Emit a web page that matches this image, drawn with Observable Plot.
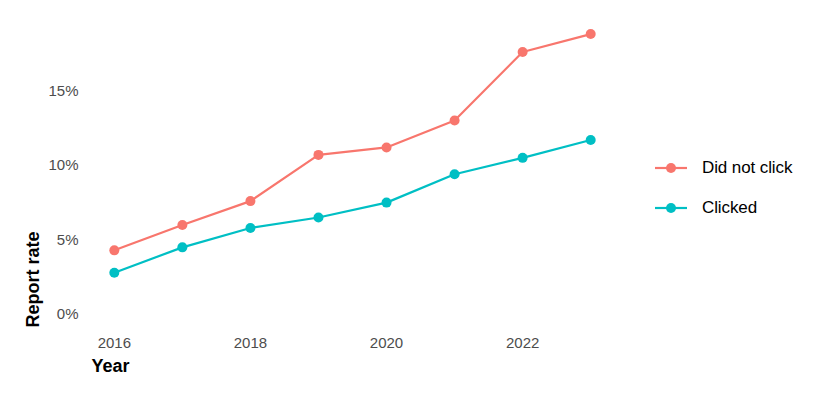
<!DOCTYPE html>
<html><head><meta charset="utf-8">
<script src="https://cdn.jsdelivr.net/npm/d3@7"></script>
<script src="https://cdn.jsdelivr.net/npm/@observablehq/plot@0.6"></script>
<style>
body{margin:0;background:#fff;font-family:"Liberation Sans",Arial,sans-serif}
#wrap{position:relative;width:819px;height:397px;background:#fff}
#legend{position:absolute;left:655px;top:148px}
.item{display:flex;align-items:center;height:40px;font-size:17px;color:#000;letter-spacing:-0.1px}
.item svg{margin-right:15px;display:block}
</style>
</head><body>
<div id="wrap"><div id="legend"></div></div>
<script>
const years = [2016, 2017, 2018, 2019, 2020, 2021, 2022, 2023];
const didNotClick = [4.3, 6.0, 7.6, 10.7, 11.2, 13.0, 17.6, 18.8];
const clicked = [2.8, 4.5, 5.8, 6.5, 7.5, 9.4, 10.5, 11.7];
const groups = ["Did not click", "Clicked"];
const colors = ["#F8766D", "#00BFC4"];
const xTicks = [2016, 2018, 2020, 2022];
const yTicks = [0, 5, 10, 15];

const data = years.flatMap((yr, i) => [
  {year: yr, rate: didNotClick[i], group: groups[0]},
  {year: yr, rate: clicked[i], group: groups[1]}
]);

const font = '"Liberation Sans", Arial, sans-serif';
const chart = Plot.plot({
  width: 819, height: 397,
  marginLeft: 90, marginRight: 205, marginTop: 20, marginBottom: 69,
  x: {domain: [2015.65, 2023.35]},
  y: {domain: [-0.94, 19.71]},
  color: {domain: groups, range: colors},
  style: {fontFamily: font, fontSize: "15px", background: "#fff"},
  marks: [
    Plot.axisX({ticks: xTicks, tickFormat: "d", tickSize: 0, tickPadding: 9, label: null, fontSize: 15, fill: "#4d4d4d"}),
    Plot.axisY({ticks: yTicks, tickFormat: d => d + "%", tickSize: 0, tickPadding: 12, label: null, fontSize: 15, fill: "#4d4d4d"}),
    Plot.line(data, {x: "year", y: "rate", stroke: "group", strokeWidth: 2.2}),
    Plot.dot(data, {x: "year", y: "rate", fill: "group", r: 5}),
    Plot.text(["Report rate"], {frameAnchor: "bottom-left", rotate: -90, textAnchor: "start", dx: -52, dy: -1, fontWeight: "bold", fontSize: 18, fill: "#000"}),
    Plot.text(["Year"], {frameAnchor: "bottom-left", textAnchor: "start", dx: 1, dy: 43, fontWeight: "bold", fontSize: 18, fill: "#000"})
  ]
});
document.getElementById("wrap").prepend(chart);

const legend = document.getElementById("legend");
groups.forEach((g, i) => {
  const div = document.createElement("div");
  div.className = "item";
  div.innerHTML = `<svg width="32" height="14"><line x1="0" x2="32" y1="7" y2="7" stroke="${colors[i]}" stroke-width="2.2"/><circle cx="16" cy="7" r="5" fill="${colors[i]}"/></svg><span>${g}</span>`;
  legend.appendChild(div);
});
</script>
</body></html>
